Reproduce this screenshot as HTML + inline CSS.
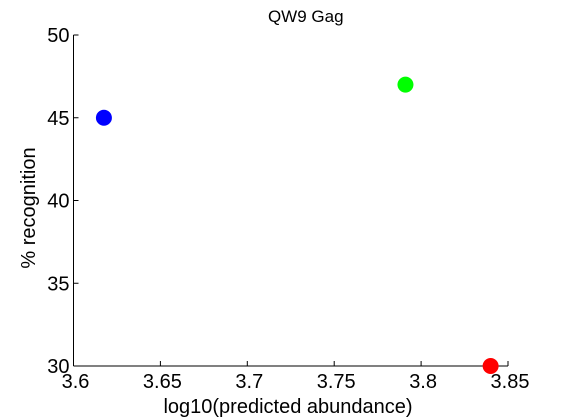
<!DOCTYPE html>
<html><head><meta charset="utf-8"><style>
body{margin:0;background:#fff;}
svg{display:block;font-family:"Liberation Sans",sans-serif;}
</style></head><body>
<svg id="chart" width="561" height="420">
<rect width="561" height="420" fill="#fff"/>
<g id="axes"></g>
<g id="marks"></g>
</svg>
<script>
const xValues=[3.6175,3.791,3.84];
const yValues=[45,47,30];
const colors=['#0000ff','#00ff00','#ff0000'];
const xTicks=[3.6,3.65,3.7,3.75,3.8,3.85];
const xTickLabels=['3.6','3.65','3.7','3.75','3.8','3.85'];
const yTicks=[30,35,40,45,50];
const yTickLabels=['30','35','40','45','50'];
const L=73.5,R=508,T=35,B=366;
const sx=v=>L+(v-3.6)/(3.85-3.6)*(R-L);
const sy=v=>B-(v-30)/(50-30)*(B-T);
const NS='http://www.w3.org/2000/svg';
const axes=document.getElementById('axes'),marks=document.getElementById('marks');
function mk(tag,attrs,parent,text){const e=document.createElementNS(NS,tag);for(const k in attrs)e.setAttribute(k,attrs[k]);if(text!==undefined)e.textContent=text;parent.appendChild(e);return e;}
let e;
e=mk('line',{x1:L,y1:B,x2:R,y2:B,stroke:'#000'},axes);


e=mk('line',{x1:L,y1:B,x2:L,y2:T,stroke:'#000'},axes);


xTicks.forEach((t,i)=>{
 const x=sx(t);
 e=mk('line',{x1:x,y1:B,x2:x,y2:B-5,stroke:'#000'},axes);
 
 
 e=mk('text',{x:x+2,y:388,'text-anchor':'middle','font-size':'20'},axes,xTickLabels[i]);
 
 
});
yTicks.forEach((t,i)=>{
 const y=sy(t);
 e=mk('line',{x1:L,y1:y,x2:L+5,y2:y,stroke:'#000'},axes);
 
 
 e=mk('text',{x:L-4,y:y+7,'text-anchor':'end','font-size':'20'},axes,yTickLabels[i]);
 
 
});
e=mk('text',{x:(L+R)/2+15,y:22,'text-anchor':'middle','font-size':'17'},axes,'QW9 Gag');


e=mk('text',{x:288,y:413,'text-anchor':'middle','font-size':'20'},axes,'log10(predicted abundance)');


e=mk('text',{x:35,y:208,'text-anchor':'middle','font-size':'20',transform:'rotate(-90 35 208)'},axes,'% recognition');


xValues.forEach((v,i)=>{
 e=mk('circle',{cx:sx(v),cy:sy(yValues[i]),r:8,fill:colors[i]},marks);
 
 
});
</script>
</body></html>
